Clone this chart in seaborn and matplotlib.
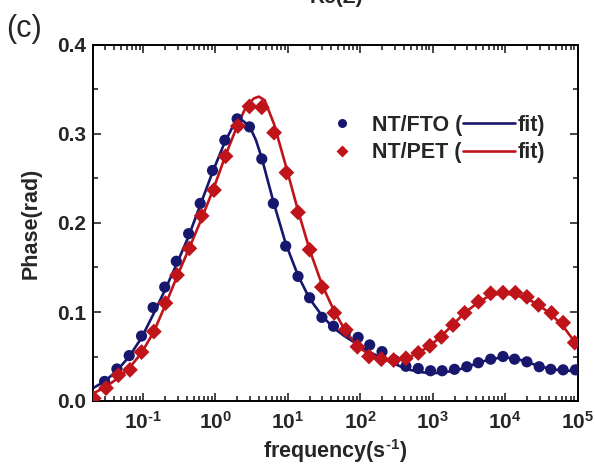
import numpy as np
import pandas as pd
import matplotlib
matplotlib.use("Agg")
import matplotlib.pyplot as plt
import matplotlib.ticker as mticker
from matplotlib.lines import Line2D
import seaborn as sns

# ---- data (log10 of frequency, phase in rad) ----
fto_logf = [-1.53, -1.36, -1.19, -1.02, -0.86, -0.70, -0.54, -0.37, -0.21, -0.04,
            0.13, 0.30, 0.47, 0.64, 0.80, 0.97, 1.14, 1.30, 1.47, 1.63,
            1.80, 1.97, 2.13, 2.30, 2.47, 2.63, 2.80, 2.97, 3.13, 3.30,
            3.47, 3.63, 3.80, 3.97, 4.13, 4.30, 4.47, 4.63, 4.80, 4.97]
fto_phase = [0.022, 0.036, 0.051, 0.073, 0.105, 0.128, 0.157, 0.188, 0.222, 0.259,
             0.293, 0.317, 0.308, 0.272, 0.222, 0.174, 0.140, 0.116, 0.094, 0.084,
             0.078, 0.0715, 0.063, 0.0555, 0.046, 0.039, 0.0365, 0.034, 0.034, 0.0356,
             0.0385, 0.043, 0.047, 0.050, 0.047, 0.044, 0.0385, 0.0356, 0.035, 0.035]

pet_logf = [-1.68, -1.51, -1.34, -1.18, -1.02, -0.85, -0.69, -0.53, -0.36, -0.19,
            -0.02, 0.14, 0.31, 0.47, 0.64, 0.81, 0.98, 1.14, 1.30, 1.47,
            1.64, 1.80, 1.96, 2.12, 2.29, 2.46, 2.63, 2.80, 2.96, 3.12,
            3.28, 3.44, 3.63, 3.80, 3.97, 4.14, 4.30, 4.46, 4.64, 4.80, 4.96]
pet_phase = [0.003, 0.0145, 0.029, 0.035, 0.055, 0.078, 0.110, 0.1415, 0.1715, 0.208,
             0.237, 0.275, 0.309, 0.331, 0.330, 0.3015, 0.2566, 0.212, 0.170, 0.128,
             0.099, 0.080, 0.061, 0.050, 0.047, 0.046, 0.048, 0.054, 0.062, 0.072,
             0.0854, 0.099, 0.1116, 0.121, 0.1217, 0.1217, 0.117, 0.108, 0.099, 0.088, 0.0655]

fto_fit_logf = [-1.70, -1.53, -1.36, -1.19, -1.02, -0.86, -0.70, -0.54, -0.37, -0.21,
                -0.04, 0.13, 0.25, 0.36, 0.47, 0.56, 0.64, 0.80, 0.97, 1.14,
                1.30, 1.47, 1.63, 1.80, 1.97, 2.13, 2.30, 2.47, 2.63, 2.80,
                2.97, 3.13, 3.30, 3.47, 3.63, 3.80, 3.97, 4.13, 4.30, 4.47,
                4.63, 4.80, 5.00]
fto_fit_phase = [0.014, 0.022, 0.034, 0.050, 0.071, 0.097, 0.124, 0.153, 0.185, 0.220,
                 0.257, 0.291, 0.310, 0.316, 0.309, 0.293, 0.273, 0.224, 0.177, 0.141,
                 0.115, 0.096, 0.082, 0.072, 0.063, 0.055, 0.048, 0.042, 0.036, 0.033,
                 0.031, 0.032, 0.034, 0.038, 0.043, 0.047, 0.049, 0.048, 0.044, 0.039,
                 0.036, 0.034, 0.034]

pet_fit_logf = [-1.70, -1.51, -1.34, -1.18, -1.02, -0.85, -0.69, -0.53, -0.36, -0.19,
                -0.02, 0.14, 0.31, 0.42, 0.53, 0.60, 0.68, 0.81, 0.98, 1.14,
                1.30, 1.47, 1.64, 1.80, 1.96, 2.12, 2.29, 2.46, 2.63, 2.80,
                2.96, 3.12, 3.28, 3.44, 3.63, 3.80, 3.97, 4.14, 4.30, 4.46,
                4.64, 4.80, 5.00]
pet_fit_phase = [0.008, 0.016, 0.026, 0.038, 0.054, 0.078, 0.108, 0.140, 0.172, 0.205,
                 0.240, 0.276, 0.311, 0.330, 0.340, 0.342, 0.338, 0.311, 0.262, 0.214,
                 0.170, 0.131, 0.101, 0.078, 0.062, 0.052, 0.046, 0.045, 0.048, 0.054,
                 0.062, 0.073, 0.086, 0.099, 0.111, 0.119, 0.121, 0.119, 0.115, 0.108,
                 0.097, 0.084, 0.062]

series_labels = ["NT/FTO (", "NT/PET ("]
fit_label = "fit)"
x_tick_exps = ["\u20101", "0", "1", "2", "3", "4", "5"]
x_tick_labels = [r"$\mathbf{10^{%s}}$" % e for e in x_tick_exps]
y_tick_labels = ["0.0", "0.1", "0.2", "0.3", "0.4"]

BLUE = "#17176e"
RED = "#c0141b"

pts = pd.concat([
    pd.DataFrame({"freq": 10 ** np.array(fto_logf), "phase": fto_phase, "sample": "FTO"}),
    pd.DataFrame({"freq": 10 ** np.array(pet_logf), "phase": pet_phase, "sample": "PET"}),
])
fits = pd.concat([
    pd.DataFrame({"freq": 10 ** np.array(fto_fit_logf), "phase": fto_fit_phase, "sample": "FTO"}),
    pd.DataFrame({"freq": 10 ** np.array(pet_fit_logf), "phase": pet_fit_phase, "sample": "PET"}),
])

sns.set_style("ticks")
plt.rcParams["font.family"] = ["Liberation Sans", "DejaVu Sans"]
plt.rcParams["mathtext.fontset"] = "custom"
plt.rcParams["mathtext.bf"] = "Liberation Sans:bold"
plt.rcParams["mathtext.rm"] = "Liberation Sans"
plt.rcParams["mathtext.it"] = "Liberation Sans:italic"

fig = plt.figure(figsize=(5.95, 4.65), dpi=100)
ax = fig.add_axes([93 / 595, 1 - 401 / 465, (577.6 - 93) / 595, (401 - 45) / 465])

palette = {"FTO": BLUE, "PET": RED}
sns.lineplot(data=fits, x="freq", y="phase", hue="sample", palette=palette,
             lw=1.9, legend=False, ax=ax, zorder=2, sort=True)
sns.scatterplot(data=pts, x="freq", y="phase", hue="sample", style="sample",
                markers={"FTO": "o", "PET": "D"}, palette=palette,
                s=65, edgecolor="none", legend=False, ax=ax, zorder=3)

ax.set_xscale("log")
ax.set_xlim(10 ** -1.69, 1e5)
ax.set_ylim(0, 0.4)

ax.xaxis.set_major_locator(mticker.FixedLocator([10.0 ** k for k in range(-1, 6)]))
ax.set_xticklabels(x_tick_labels)
ax.xaxis.set_minor_locator(mticker.LogLocator(base=10, subs=np.arange(2, 10), numticks=20))
ax.xaxis.set_minor_formatter(mticker.NullFormatter())
ax.set_yticks([0.0, 0.1, 0.2, 0.3, 0.4])
ax.set_yticklabels(y_tick_labels)
ax.yaxis.set_minor_locator(mticker.MultipleLocator(0.05))

ax.tick_params(which="both", direction="in", top=True, right=True, width=1.2)
ax.tick_params(which="major", length=6)
ax.tick_params(which="minor", length=3.5)
ax.tick_params(axis="y", which="major", labelsize=15, pad=5)
ax.tick_params(axis="x", which="major", labelsize=15, pad=7)
for lab in ax.get_yticklabels():
    lab.set_fontweight("bold")
for sp in ax.spines.values():
    sp.set_linewidth(1.4)
    sp.set_color("black")

ax.set_xlabel("frequency(s$^{\\mathbf{\u20101}}$)", fontsize=15.5, fontweight="bold", labelpad=3)
ax.set_ylabel("Phase(rad)", fontsize=15.5, fontweight="bold", labelpad=11)

# legend: markers + "NT/xxx (" then fit lines + "fit)"
LEG_FS = 15.5
h_pts = [Line2D([], [], ls="none", marker="o", ms=6.5, color=BLUE, mec="none"),
         Line2D([], [], ls="none", marker="D", ms=6.3, color=RED, mec="none")]
h_fit = [Line2D([], [], color=BLUE, lw=1.9), Line2D([], [], color=RED, lw=1.9)]
leg1 = ax.legend(h_pts, series_labels, frameon=False, loc="center left",
                 bbox_to_anchor=(0.492, 0.736), prop={"weight": "bold", "size": LEG_FS},
                 handlelength=1.0, handletextpad=0.9, labelspacing=0.32,
                 borderpad=0, borderaxespad=0)
ax.add_artist(leg1)
leg2 = ax.legend(h_fit, [fit_label, fit_label], frameon=False, loc="center left",
                 bbox_to_anchor=(0.7635, 0.736), prop={"weight": "bold", "size": LEG_FS},
                 handlelength=2.4, handletextpad=0.15, labelspacing=0.32,
                 borderpad=0, borderaxespad=0)

fig.text(336 / 595, 1 - 7 / 465, "Re(Z)", ha="center", va="bottom", fontsize=15, fontweight="bold")
fig.text(6 / 595, 1 - 44 / 465, "(c)", ha="left", va="bottom", fontsize=22)

fig.savefig("out.png", dpi=100)
